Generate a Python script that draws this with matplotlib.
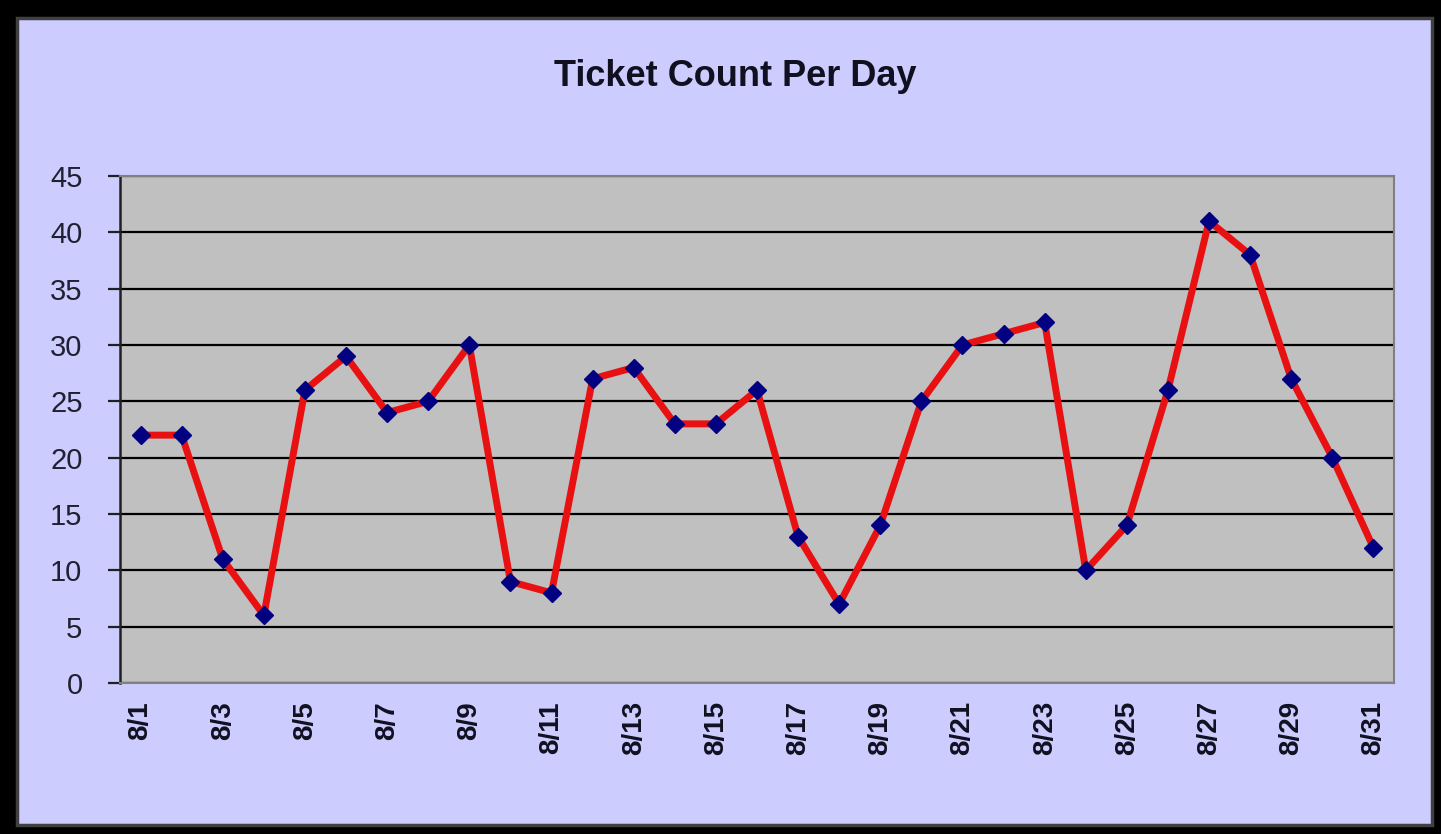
import matplotlib
matplotlib.use("Agg")
import matplotlib.pyplot as plt
from matplotlib.patches import Rectangle

plt.rcParams["font.family"] = ["Liberation Sans", "DejaVu Sans"]

# Data
days = [f"8/{d}" for d in range(1, 32)]
tickets = [22, 22, 11, 6, 26, 29, 24, 25, 30, 9, 8, 27, 28, 23, 23, 26,
           13, 7, 14, 25, 30, 31, 32, 10, 14, 26, 41, 38, 27, 20, 12]
y_ticks = list(range(0, 50, 5))

W, H = 1441, 834
fig = plt.figure(figsize=(W / 100, H / 100), dpi=100)
fig.patch.set_facecolor("black")

# lavender chart panel inside black border
fig.patches.append(Rectangle((17 / W, 9 / H), (1432 - 17) / W, (816 - 9) / H,
                             transform=fig.transFigure, facecolor="#CCCCFF",
                             edgecolor="#404040", linewidth=2.5, zorder=-10))

ax = fig.add_axes([120 / W, (H - 683) / H, (1394 - 120) / W, (683 - 176) / H])
ax.set_facecolor("#C0C0C0")

x = list(range(len(days)))
ax.plot(x, tickets, color="#E81010", linewidth=5, zorder=3,
        marker="D", markersize=9, markerfacecolor="#000080",
        markeredgecolor="#000080")

ax.set_xlim(-0.5, len(days) - 0.5)
ax.set_ylim(0, 45)
ax.set_yticks(y_ticks)
ax.set_yticklabels([str(v) for v in y_ticks], fontsize=21, color="#202030")
ax.yaxis.grid(True, color="black", linewidth=1.6)
ax.set_axisbelow(True)

ax.set_xticks(x[::2])
ax.set_xticklabels(days[::2], rotation=90, fontsize=20, fontweight="bold",
                   color="#101020")
ax.tick_params(axis="x", length=0, pad=13)
ax.tick_params(axis="y", length=9, width=1.6, color="#202020", pad=18)

for side in ["top", "right", "bottom"]:
    ax.spines[side].set_color("#808080")
    ax.spines[side].set_linewidth(1.5)
ax.spines["left"].set_color("#202020")
ax.spines["left"].set_linewidth(1.8)

fig.text(735 / W, (H - 76) / H, "Ticket Count Per Day", ha="center",
         va="center", fontsize=26, fontweight="bold", color="#101020")

fig.savefig("out.png", dpi=100, facecolor=fig.get_facecolor())
